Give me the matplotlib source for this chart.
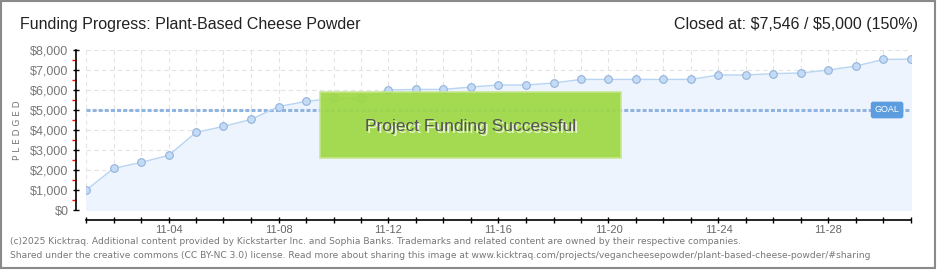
import numpy as np
import matplotlib
matplotlib.use("Agg")
import matplotlib.pyplot as plt
from matplotlib.patches import Rectangle

# daily pledged totals, 11-01 .. 12-01
days = ["11-01", "11-02", "11-03", "11-04", "11-05", "11-06", "11-07", "11-08",
        "11-09", "11-10", "11-11", "11-12", "11-13", "11-14", "11-15", "11-16",
        "11-17", "11-18", "11-19", "11-20", "11-21", "11-22", "11-23", "11-24",
        "11-25", "11-26", "11-27", "11-28", "11-29", "11-30", "12-01"]
pledged = [990, 2080, 2380, 2730, 3880, 4180, 4530, 5170,
           5430, 5580, 5580, 6000, 6030, 6030, 6150, 6250,
           6250, 6350, 6530, 6530, 6530, 6530, 6530, 6750,
           6750, 6820, 6850, 7000, 7200, 7530, 7546]
goal = 5000
yticks = [0, 1000, 2000, 3000, 4000, 5000, 6000, 7000, 8000]
ylabels = ["$0", "$1,000", "$2,000", "$3,000", "$4,000", "$5,000", "$6,000", "$7,000", "$8,000"]
labelled_days = ["11-04", "11-08", "11-12", "11-16", "11-20", "11-24", "11-28"]

narrow = ["Liberation Sans", "DejaVu Sans"]
W, H = 940, 270

fig = plt.figure(figsize=(9.4, 2.7), dpi=100)
fig.patch.set_facecolor("white")

# outer frame
fig.patches.append(Rectangle((1 / W, 2 / H), 934 / W, 267 / H, transform=fig.transFigure,
                             fill=False, edgecolor="#8a8a8a", linewidth=1.5))

ax = fig.add_axes([86 / W, 60 / H, 825 / W, 160 / H])
x = np.arange(len(days))

ax.fill_between(x, pledged, 0, color="#edf4fd", zorder=1)
ax.plot(x, pledged, color="#b9d5f2", linewidth=1.0, zorder=3)
ax.plot(x, pledged, "o", markersize=5.5, markerfacecolor="#c3dbf6",
        markeredgecolor="#93b3da", markeredgewidth=0.8, zorder=4)
ax.axhline(goal, color="#8fb4e0", linewidth=2.2, linestyle=(0, (1.3, 0.7)), zorder=2)

ax.set_xlim(0, len(days) - 1)
ax.set_ylim(0, 8000)

ax.set_xticks(x)
ax.set_xticklabels([d if d in labelled_days else "" for d in days])
ax.set_yticks(yticks)
ax.set_yticklabels(ylabels)
ax.set_yticks(np.arange(500, 8000, 1000), minor=True)

ax.grid(True, which="major", color="#e3e3e3", linestyle=(0, (4, 3)), linewidth=0.8)
ax.set_axisbelow(True)

for s in ["top", "right"]:
    ax.spines[s].set_visible(False)
ax.spines["left"].set_position(("outward", 7))
ax.spines["bottom"].set_position(("outward", 7))
ax.spines["left"].set_linewidth(1.2)
ax.spines["bottom"].set_linewidth(1.2)

ax.tick_params(axis="y", which="major", direction="inout", length=5, width=1,
               labelcolor="#777777", pad=3)
ax.tick_params(axis="y", which="minor", direction="out", length=3, width=1, color="red")
ax.tick_params(axis="x", which="major", direction="inout", length=5, width=1,
               labelcolor="#666666", pad=1)
for lab in ax.get_yticklabels():
    lab.set_family(narrow)
    lab.set_fontsize(9)
for lab in ax.get_xticklabels():
    lab.set_family(narrow)
    lab.set_fontsize(8)

ax.set_ylabel("P L E D G E D", fontsize=6.5, color="#777777", labelpad=6)

# goal tag
ax.text(len(days) - 1.87, goal, "GOAL", ha="center", va="center", fontsize=6.5,
        color="white", family=narrow, zorder=6,
        bbox=dict(boxstyle="round,pad=0.35,rounding_size=0.2", facecolor="#5c9de0",
                  edgecolor="#5c9de0"))

# success banner
fig.patches.append(Rectangle((320 / W, (H - 158) / H), 301 / W, 66 / H, transform=fig.transFigure,
                             facecolor="#9fd845", edgecolor="#c5e78c", linewidth=1.2,
                             alpha=0.93, zorder=5))
fig.text(471 / W + 0.0012, (H - 127) / H - 0.004, "Project Funding Successful", ha="center", va="center",
         fontsize=12.5, color="#e8f5d0", family=narrow, zorder=6)
fig.text(471 / W, (H - 127) / H, "Project Funding Successful", ha="center", va="center",
         fontsize=12.5, color="#555555", family=narrow, zorder=7)

# titles
fig.text(20 / W, (H - 24) / H, "Funding Progress: Plant-Based Cheese Powder", ha="left", va="center",
         fontsize=11.5, color="#222222", family=narrow)
fig.text(918 / W, (H - 24) / H, "Closed at: \\$7,546 / \\$5,000 (150%)", ha="right", va="center",
         fontsize=11.5, color="#222222", family=narrow)

# footer
fig.text(10 / W, (H - 242) / H,
         "(c)2025 Kicktraq. Additional content provided by Kickstarter Inc. and Sophia Banks. "
         "Trademarks and related content are owned by their respective companies.",
         ha="left", va="center", fontsize=6.6, color="#777777")
fig.text(10 / W, (H - 255) / H,
         "Shared under the creative commons (CC BY-NC 3.0) license. Read more about sharing this image at "
         "www.kicktraq.com/projects/vegancheesepowder/plant-based-cheese-powder/#sharing",
         ha="left", va="center", fontsize=6.6, color="#777777")

fig.savefig("out.png", dpi=100)
